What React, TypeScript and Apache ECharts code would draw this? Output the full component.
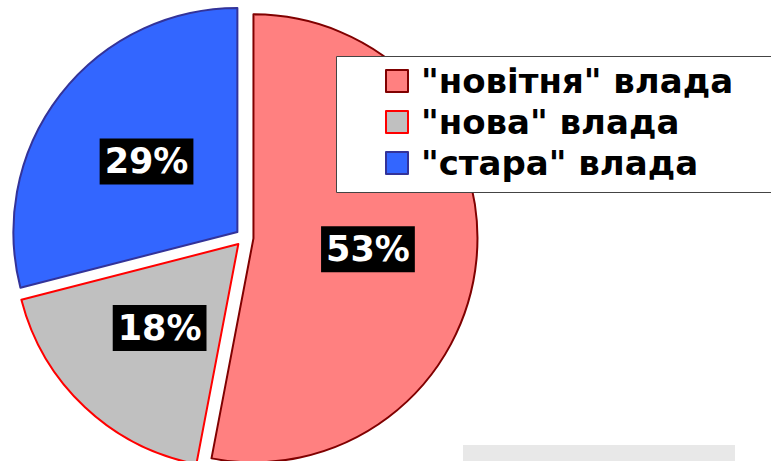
import React, { useEffect, useRef } from "react";
import * as echarts from "echarts";

const categories = ['"новітня" влада', '"нова" влада', '"стара" влада'];
const values = [53, 18, 29];
const fillColors = ["#FF8080", "#C0C0C0", "#3366FF"];
const borderColors = ["#800000", "#FF0000", "#333399"];

export default function App() {
  const ref = useRef<HTMLDivElement>(null);
  useEffect(() => {
    if (!ref.current) return;
    const chart = echarts.init(ref.current, null, { renderer: "svg" });
    chart.setOption({
      animation: false,
      backgroundColor: "#ffffff",
      graphic: [
        {
          type: "rect",
          z: 3,
          shape: { x: 336.5, y: 56.5, width: 500, height: 136 },
          style: { fill: "#ffffff", stroke: "#444444", lineWidth: 1 },
        },
        {
          type: "rect",
          z: 3,
          shape: { x: 463, y: 445, width: 272, height: 20 },
          style: { fill: "#E8E8E8" },
        },
      ],
      legend: {
        orient: "vertical",
        left: 385,
        top: 64,
        padding: 0,
        z: 5,
        itemWidth: 22,
        itemHeight: 22,
        itemGap: 7,
        icon: "rect",
        selectedMode: false,
        textStyle: {
          fontFamily: "DejaVu Sans",
          fontWeight: "bold",
          fontSize: 34,
          color: "#000000",
          padding: [0, 0, 0, 8],
        },
        data: categories,
      },
      series: [
        {
          type: "pie",
          z: 2,
          center: [244.5, 237.5],
          radius: 224,
          startAngle: 90,
          clockwise: true,
          selectedMode: "multiple",
          selectedOffset: 9,
          avoidLabelOverlap: false,
          emphasis: { disabled: true },
          label: {
            show: true,
            position: "inside",
            formatter: "{c}%",
            fontFamily: "DejaVu Sans",
            fontWeight: "bold",
            fontSize: 35,
            color: "#ffffff",
            backgroundColor: "#000000",
            padding: [6, 5, 5, 5],
          },
          labelLine: { show: false },
          data: categories.map((name, i) => ({
            name,
            value: values[i],
            selected: true,
            itemStyle: {
              color: fillColors[i],
              borderColor: borderColors[i],
              borderWidth: 2,
            },
            select: {
              itemStyle: {
                color: fillColors[i],
                borderColor: borderColors[i],
                borderWidth: 2,
              },
            },
          })),
        },
      ],
    });
    return () => chart.dispose();
  }, []);
  return <div ref={ref} style={{ width: 771, height: 461, position: "absolute", left: 0, top: 0 }} />;
}
